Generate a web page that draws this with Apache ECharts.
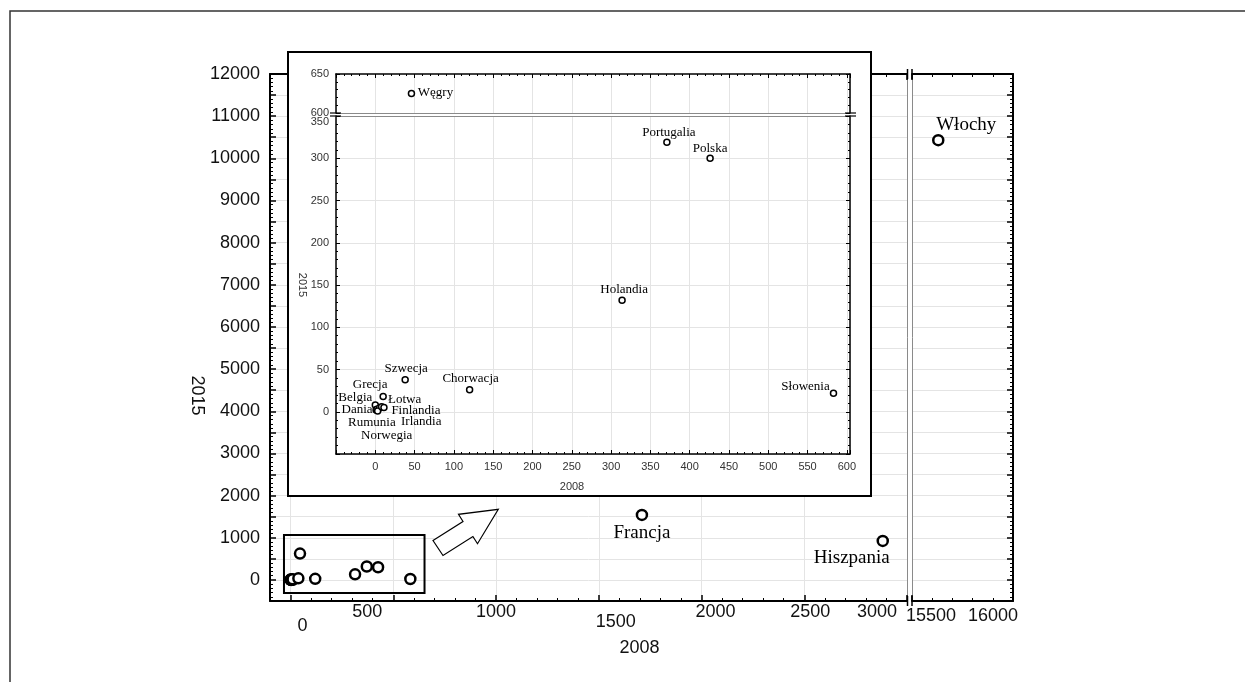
<!DOCTYPE html>
<html>
<head>
<meta charset="utf-8">
<title>2008 / 2015</title>
<script src="https://cdn.jsdelivr.net/npm/echarts@6.0.0/dist/echarts.min.js"></script>
<style>
html, body { margin: 0; padding: 0; background: #fff; }
#chart-container1 { width: 1245px; height: 682px; }
</style>
</head>
<body>
<div id="chart-container1"></div>
<script>
// data
const countries = ["Belgia", "Dania", "Rumunia", "Irlandia", "Norwegia", "Łotwa", "Finlandia", "Grecja", "Szwecja",
    "Chorwacja", "Węgry", "Holandia", "Portugalia", "Polska", "Słowenia", "Francja", "Hiszpania", "Włochy"];
const values2008 = [0, 1, 2, 5, 3, 8, 11, 10, 38, 120, 46, 314, 371, 426, 583, 1710, 2882, 15630];
const values2015 = [8, 2, 3, 4, 1, 6, 5, 18, 38, 26, 625, 132, 319, 300, 22, 1541, 925, 10430];

const mainXTicks = [0, 500, 1000, 1500, 2000, 2500, 3000];
const mainXTicksRight = [15500, 16000];
const mainYTicks = [0, 1000, 2000, 3000, 4000, 5000, 6000, 7000, 8000, 9000, 10000, 11000, 12000];
const insetXTicks = [0, 50, 100, 150, 200, 250, 300, 350, 400, 450, 500, 550, 600];
const insetYTicksLow = [0, 50, 100, 150, 200, 250, 300, 350];
const insetYTicksHigh = [600, 650];

let dom = document.getElementById("chart-container1");
let myChart = echarts.init(dom, null, { renderer: "canvas" });

const sans = "'Liberation Sans', Arial, sans-serif";
const serif = "'Liberation Serif', 'Times New Roman', serif";

// label placement (pixels from the marker centre)
const labelOffset = {
    "Belgia": [-20, -7], "Dania": [-19, 0], "Rumunia": [-5, 13], "Irlandia": [42, 13], "Norwegia": [9, 25],
    "Łotwa": [23, -7], "Finlandia": [32, 3], "Grecja": [-13, -12], "Szwecja": [1, -11], "Chorwacja": [1, -11],
    "Węgry": [24, -1], "Holandia": [2, -11], "Portugalia": [2, -10], "Polska": [0, -10], "Słowenia": [-28, -7],
    "Francja": [0, 18], "Hiszpania": [-31, 17], "Włochy": [28, -15]
};
const mainLabelled = ["Francja", "Hiszpania", "Włochy"];

function point(i, labelled, size) {
    const name = countries[i];
    return {
        name: name,
        value: [values2008[i], values2015[i]],
        label: {
            show: labelled,
            position: "inside",
            offset: labelOffset[name],
            formatter: "{b}",
            color: "#000",
            fontFamily: serif,
            fontSize: size,
        },
    };
}

const mainLeftData = [], mainRightData = [], insetHighData = [], insetLowData = [];
countries.forEach((name, i) => {
    const labelled = mainLabelled.includes(name);
    if (values2008[i] <= 3000) mainLeftData.push(point(i, labelled, 19));
    else mainRightData.push(point(i, labelled, 19));
    if (!labelled) {
        if (values2015[i] >= 600) insetHighData.push(point(i, true, 13));
        else insetLowData.push(point(i, true, 13));
    }
});

// main x labels sit a little irregularly in the original
const xLabelShift = {
    0: [12, 14], 500: [-26, 0], 1000: [0, 0], 1500: [17, 10], 2000: [14, 0], 2500: [6, 0], 3000: [-30, 0],
    15500: [19, 0], 16000: [-20, 0]
};
const xRich = {};
mainXTicks.concat(mainXTicksRight).forEach(v => {
    const s = xLabelShift[v];
    xRich["v" + v] = {
        fontSize: 18, fontFamily: sans, color: "#111",
        padding: [s[1], s[0] < 0 ? -2 * s[0] : 0, 0, s[0] > 0 ? 2 * s[0] : 0],
    };
});

const blackLine = w => ({ show: true, onZero: false, lineStyle: { color: "#000", width: w } });
const grayLine = { show: true, onZero: false, lineStyle: { color: "#8a8a8a", width: 1 } };
const ticksIn = (len, w) => ({ show: true, inside: true, length: len, lineStyle: { color: "#000", width: w } });
const minorIn = (len, n) => ({ show: true, splitNumber: n, length: len, lineStyle: { color: "#000", width: 1 } });
const grid = { show: true, lineStyle: { color: "#e4e4e4", width: 1 } };
const off = { show: false };

option = {
    animation: false,
    backgroundColor: "#fff",
    grid: [
        { left: 270, top: 74, width: 637, height: 527, outerBoundsMode: "none" },
        { left: 912, top: 74, width: 101, height: 527, outerBoundsMode: "none" },
        { left: 336, top: 74, width: 514, height: 39, outerBoundsMode: "none" },
        { left: 336, top: 116, width: 514, height: 338, outerBoundsMode: "none" },
    ],
    xAxis: [
        {
            type: "value", gridIndex: 0, position: "bottom", min: -100, max: 3000, minInterval: 500, maxInterval: 500,
            axisLine: blackLine(2), axisTick: ticksIn(6, 1.5), minorTick: minorIn(3, 5), splitLine: grid,
            axisLabel: {
                margin: 2, rich: xRich,
                formatter: v => mainXTicks.includes(v) ? "{v" + v + "|" + v + "}" : "",
            },
            name: "2008", nameLocation: "middle", nameGap: 38, nameMoveOverlap: false,
            nameTextStyle: { fontSize: 18, fontFamily: sans, color: "#111", padding: [0, 0, 0, 102] },
        },
        {
            type: "value", gridIndex: 0, position: "top", min: -100, max: 3000, minInterval: 500, maxInterval: 500,
            axisLine: blackLine(2), axisTick: ticksIn(6, 1.5), minorTick: minorIn(3, 5), splitLine: off, axisLabel: off,
        },
        {
            type: "value", gridIndex: 1, position: "bottom", min: 15500, max: 16000, interval: 500,
            axisLine: blackLine(2), axisTick: ticksIn(6, 1.5), minorTick: minorIn(3, 5), splitLine: off,
            axisLabel: {
                margin: 6, rich: xRich,
                formatter: v => mainXTicksRight.includes(v) ? "{v" + v + "|" + v + "}" : "",
            },
        },
        {
            type: "value", gridIndex: 1, position: "top", min: 15500, max: 16000, interval: 500,
            axisLine: blackLine(2), axisTick: ticksIn(6, 1.5), minorTick: minorIn(3, 5), splitLine: off, axisLabel: off,
        },
        {
            type: "value", gridIndex: 2, position: "top", min: -50, max: 604, interval: 50, z: 10,
            axisLine: blackLine(1.5), axisTick: ticksIn(4, 1), minorTick: minorIn(2, 5), splitLine: off, axisLabel: off,
        },
        {
            type: "value", gridIndex: 2, position: "bottom", min: -50, max: 604, interval: 50, z: 10,
            axisLine: grayLine, axisTick: off, splitLine: grid, axisLabel: off,
        },
        {
            type: "value", gridIndex: 3, position: "top", min: -50, max: 604, interval: 50, z: 10,
            axisLine: grayLine, axisTick: off, splitLine: off, axisLabel: off,
        },
        {
            type: "value", gridIndex: 3, position: "bottom", min: -50, max: 604, interval: 50, z: 10,
            axisLine: blackLine(1.5), axisTick: ticksIn(4, 1), minorTick: minorIn(2, 5), splitLine: grid,
            axisLabel: {
                margin: 7, fontSize: 11, fontFamily: sans, color: "#333",
                formatter: v => insetXTicks.includes(v) ? String(v) : "",
            },
            name: "2008", nameLocation: "middle", nameGap: 27, nameMoveOverlap: false,
            nameTextStyle: { fontSize: 11, fontFamily: sans, color: "#333", padding: [0, 42, 0, 0] },
        },
    ],
    yAxis: [
        {
            type: "value", gridIndex: 0, position: "left", min: -500, max: 12000, minInterval: 500, maxInterval: 500,
            axisLine: blackLine(2), axisTick: ticksIn(6, 1.5), minorTick: minorIn(3, 5), splitLine: grid,
            axisLabel: {
                margin: 10, fontSize: 18, fontFamily: sans, color: "#111",
                formatter: v => mainYTicks.includes(v) ? String(v) : "",
            },
            name: "2015", nameLocation: "middle", nameRotate: -90, nameGap: 64, nameMoveOverlap: false,
            nameTextStyle: { fontSize: 18, fontFamily: sans, color: "#111", padding: [0, 0, 0, 116] },
        },
        {
            type: "value", gridIndex: 0, position: "right", min: -500, max: 12000, minInterval: 500, maxInterval: 500,
            axisLine: grayLine, axisTick: off, splitLine: off, axisLabel: off,
        },
        {
            type: "value", gridIndex: 1, position: "left", min: -500, max: 12000, minInterval: 500, maxInterval: 500,
            axisLine: grayLine, axisTick: off, splitLine: grid, axisLabel: off,
        },
        {
            type: "value", gridIndex: 1, position: "right", min: -500, max: 12000, minInterval: 500, maxInterval: 500,
            axisLine: blackLine(2), axisTick: ticksIn(6, 1.5), minorTick: minorIn(3, 5), splitLine: off, axisLabel: off,
        },
        {
            type: "value", gridIndex: 2, position: "left", min: 600, max: 650, interval: 50, z: 10,
            axisLine: blackLine(1.5), axisTick: ticksIn(4, 1), minorTick: minorIn(2, 5), splitLine: off,
            axisLabel: {
                margin: 7, fontSize: 11, fontFamily: sans, color: "#333",
                formatter: v => insetYTicksHigh.includes(v) ? String(v) : "",
            },
        },
        {
            type: "value", gridIndex: 2, position: "right", min: 600, max: 650, interval: 50, z: 10,
            axisLine: blackLine(1.5), axisTick: ticksIn(4, 1), minorTick: minorIn(2, 5), splitLine: off, axisLabel: off,
        },
        {
            type: "value", gridIndex: 3, position: "left", min: -50, max: 350, interval: 50, z: 10,
            axisLine: blackLine(1.5), axisTick: ticksIn(4, 1), minorTick: minorIn(2, 5), splitLine: grid,
            axisLabel: {
                margin: 7, fontSize: 11, fontFamily: sans, color: "#333", verticalAlignMaxLabel: "top",
                formatter: v => insetYTicksLow.includes(v) ? String(v) : "",
            },
            name: "2015", nameLocation: "middle", nameRotate: -90, nameGap: 28, nameMoveOverlap: false,
            nameTextStyle: { fontSize: 11, fontFamily: sans, color: "#333" },
        },
        {
            type: "value", gridIndex: 3, position: "right", min: -50, max: 350, interval: 50, z: 10,
            axisLine: blackLine(1.5), axisTick: ticksIn(4, 1), minorTick: minorIn(2, 5), splitLine: off, axisLabel: off,
        },
    ],
    graphic: [
        // outer frame
        { type: "rect", z: 0, shape: { x: 10, y: 11, width: 1300, height: 700 }, style: { fill: "none", stroke: "#333", lineWidth: 1.5 } },
        // inset panel
        { type: "rect", z: 5, shape: { x: 288, y: 52, width: 583, height: 444 }, style: { fill: "#fff", stroke: "#000", lineWidth: 2 } },
        // hollow arrow
        {
            type: "polygon", z: 5,
            shape: { points: [[433, 540.5], [463, 521.5], [458.5, 514.3], [498.3, 509.3], [477.5, 543.7], [472.9, 536.5], [443, 555.5]] },
            style: { fill: "#fff", stroke: "#000", lineWidth: 1.2 },
        },
        // break marks
        { type: "line", z: 20, shape: { x1: 907.5, y1: 69, x2: 907.5, y2: 79 }, style: { stroke: "#000", lineWidth: 1.5 } },
        { type: "line", z: 20, shape: { x1: 912, y1: 69, x2: 912, y2: 79 }, style: { stroke: "#000", lineWidth: 1.5 } },
        { type: "line", z: 20, shape: { x1: 907.5, y1: 596, x2: 907.5, y2: 606 }, style: { stroke: "#000", lineWidth: 1.5 } },
        { type: "line", z: 20, shape: { x1: 912, y1: 596, x2: 912, y2: 606 }, style: { stroke: "#000", lineWidth: 1.5 } },
        { type: "line", z: 20, shape: { x1: 330, y1: 113, x2: 341, y2: 113 }, style: { stroke: "#000", lineWidth: 1.2 } },
        { type: "line", z: 20, shape: { x1: 330, y1: 116, x2: 341, y2: 116 }, style: { stroke: "#000", lineWidth: 1.2 } },
        { type: "line", z: 20, shape: { x1: 845, y1: 113, x2: 856, y2: 113 }, style: { stroke: "#000", lineWidth: 1.2 } },
        { type: "line", z: 20, shape: { x1: 845, y1: 116, x2: 856, y2: 116 }, style: { stroke: "#000", lineWidth: 1.2 } },
    ],
    series: [
        {
            type: "scatter", xAxisIndex: 0, yAxisIndex: 0, symbolSize: 10, z: 2,
            itemStyle: { color: "#fff", borderColor: "#000", borderWidth: 2.5, opacity: 1 },
            data: mainLeftData,
            markArea: {
                silent: true,
                itemStyle: { color: "rgba(0,0,0,0)", borderColor: "#000", borderWidth: 2 },
                data: [[{ xAxis: -32, yAxis: 1067 }, { xAxis: 652, yAxis: -308 }]],
            },
        },
        {
            type: "scatter", xAxisIndex: 2, yAxisIndex: 2, symbolSize: 10, z: 2,
            itemStyle: { color: "#fff", borderColor: "#000", borderWidth: 2.5, opacity: 1 },
            data: mainRightData,
        },
        {
            type: "scatter", xAxisIndex: 4, yAxisIndex: 4, symbolSize: 6, z: 12,
            itemStyle: { color: "#fff", borderColor: "#000", borderWidth: 1.5, opacity: 1 },
            data: insetHighData,
        },
        {
            type: "scatter", xAxisIndex: 7, yAxisIndex: 6, symbolSize: 6, z: 12,
            itemStyle: { color: "#fff", borderColor: "#000", borderWidth: 1.5, opacity: 1 },
            data: insetLowData,
        },
    ],
};

if (option && typeof option === "object") {
    myChart.setOption(option);
}

window.addEventListener("resize", myChart.resize);
</script>
</body>
</html>
